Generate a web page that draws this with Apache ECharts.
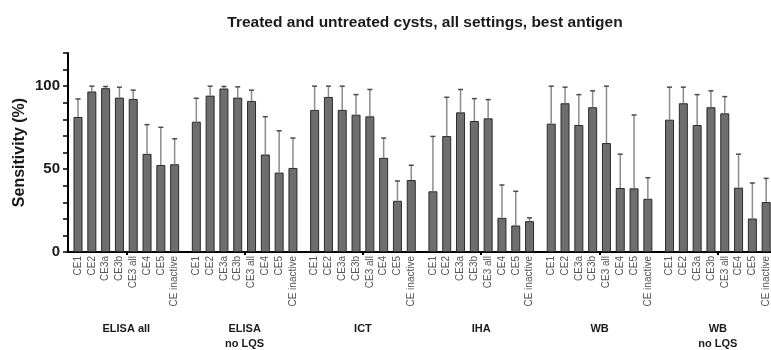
<!DOCTYPE html>
<html><head><meta charset="utf-8">
<script src="https://cdn.jsdelivr.net/npm/echarts@6/dist/echarts.min.js"></script>
<style>html,body{margin:0;padding:0;background:#fff}#c{width:771px;height:350px}</style>
</head><body><div id="c"></div>
<script>
const groups = ['ELISA all', 'ELISA\nno LQS', 'ICT', 'IHA', 'WB', 'WB\nno LQS'];
const stages = ['CE1', 'CE2', 'CE3a', 'CE3b', 'CE3 all', 'CE4', 'CE5', 'CE inactive'];
const yTicks = [0, 50, 100];

const elisaAll      = [81.4, 96.8, 98.8, 93.1, 92.3, 59.2, 52.5, 52.9];
const elisaAllUp    = [92.3, 100, 99.8, 99.4, 97.6, 76.8, 75.2, 68.3];
const elisaNoLqs    = [78.6, 94.3, 98.6, 93.1, 91.1, 58.8, 47.9, 50.7];
const elisaNoLqsUp  = [92.7, 100, 99.8, 99.6, 97.6, 81.6, 73.1, 68.7];
const ict           = [85.7, 93.5, 85.7, 82.8, 81.8, 56.8, 30.9, 43.4];
const ictUp         = [100, 100, 100, 94.9, 98.0, 68.7, 42.8, 52.3];
const iha           = [36.6, 69.9, 84.2, 79.0, 80.6, 20.6, 16.0, 18.6];
const ihaUp         = [69.7, 93.3, 98.0, 92.5, 91.9, 40.4, 36.6, 20.6];
const wb            = [77.4, 89.7, 76.6, 87.3, 65.7, 38.6, 38.4, 32.1];
const wbUp          = [100, 99.4, 94.9, 97.2, 100, 59.0, 82.6, 44.8];
const wbNoLqs       = [79.8, 89.7, 76.6, 87.3, 83.6, 38.8, 20.2, 30.1];
const wbNoLqsUp     = [99.4, 99.4, 94.9, 97.2, 93.7, 59.0, 41.6, 44.4];

const values = [elisaAll, elisaNoLqs, ict, iha, wb, wbNoLqs];
const uppers = [elisaAllUp, elisaNoLqsUp, ictUp, ihaUp, wbUp, wbNoLqsUp];

// layout: slot index along a value axis (one unit = one bar slot)
const GROUP_PITCH = 8.57;
const barData = [], errData = [], barPos = [], labelMap = {}, groupPos = [], groupMap = {};
values.forEach((arr, g) => {
  const c = g * GROUP_PITCH + 3.5;
  groupPos.push(c);
  groupMap[c.toFixed(3)] = groups[g];
  arr.forEach((v, i) => {
    const x = g * GROUP_PITCH + i;
    barPos.push(x);
    labelMap[x.toFixed(3)] = stages[i];
    barData.push([x, v]);
    errData.push([x, v, uppers[g][i]]);
  });
});

const chart = echarts.init(document.getElementById('c'), null, {renderer: 'canvas'});
chart.setOption({
  animation: false,
  backgroundColor: '#fff',
  title: {
    text: 'Treated and untreated cysts, all settings, best antigen',
    left: 420, top: 10, textAlign: 'center',
    textStyle: {fontFamily: 'Liberation Sans, Arial, sans-serif', fontSize: 15.5, fontWeight: 'bold', color: '#1a1a1a'}
  },
  grid: {left: 68, right: 0, top: 53, bottom: 98, containLabel: false, outerBoundsMode: 'none'},
  xAxis: [{
    type: 'value', min: -0.725, max: 50.2,
    splitLine: {show: false},
    axisLine: {show: true, onZero: false, lineStyle: {color: '#000', width: 2}},
    axisTick: {show: true, customValues: groupPos, length: 3, lineStyle: {color: '#000', width: 2}},
    axisLabel: {
      show: true, customValues: barPos, rotate: 90, margin: 4,
      fontFamily: 'Liberation Sans, Arial, sans-serif', fontSize: 10, color: '#555',
      formatter: v => labelMap[Number(v).toFixed(3)] || ''
    }
  }, {
    type: 'value', min: -0.725, max: 50.2, position: 'bottom',
    splitLine: {show: false}, axisLine: {show: false, onZero: false}, axisTick: {show: false},
    axisLabel: {
      show: true, customValues: groupPos, margin: 69, lineHeight: 15,
      fontFamily: 'Liberation Sans, Arial, sans-serif', fontSize: 11, fontWeight: 'bold', color: '#1a1a1a',
      formatter: v => groupMap[Number(v).toFixed(3)] || ''
    }
  }],
  yAxis: {
    type: 'value', min: 0, max: 120, interval: 10,
    name: 'Sensitivity (%)', nameLocation: 'middle', nameGap: 40, nameMoveOverlap: false,
    nameTextStyle: {fontFamily: 'Liberation Sans, Arial, sans-serif', fontSize: 16, fontWeight: 'bold', color: '#1a1a1a'},
    splitLine: {show: false},
    axisLine: {show: true, onZero: false, lineStyle: {color: '#000', width: 2}},
    axisTick: {show: true, length: 5, lineStyle: {color: '#000', width: 1.5}},
    axisLabel: {
      margin: 8, fontFamily: 'Liberation Sans, Arial, sans-serif', fontSize: 15, fontWeight: 'bold', color: '#1a1a1a',
      formatter: v => yTicks.includes(v) ? String(v) : ''
    }
  },
  series: [{
    type: 'bar', xAxisIndex: 0, data: barData, barWidth: 9,
    itemStyle: {color: '#6e6e6e', borderColor: '#2b2b2b', borderWidth: 1},
    z: 2
  }, {
    type: 'custom', xAxisIndex: 0, data: errData, z: 3,
    renderItem: (params, api) => {
      const x = api.value(0), lo = api.value(1), hi = api.value(2);
      const p0 = api.coord([x, lo]), p1 = api.coord([x, hi]);
      return {type: 'group', children: [
        {type: 'line', shape: {x1: p0[0], y1: p0[1], x2: p1[0], y2: p1[1]}, style: {stroke: '#8c8c8c', lineWidth: 1.5}},
        {type: 'line', shape: {x1: p1[0] - 2.5, y1: p1[1], x2: p1[0] + 2.5, y2: p1[1]}, style: {stroke: '#4a4a4a', lineWidth: 1.5}}
      ]};
    }
  }]
});
</script></body></html>
